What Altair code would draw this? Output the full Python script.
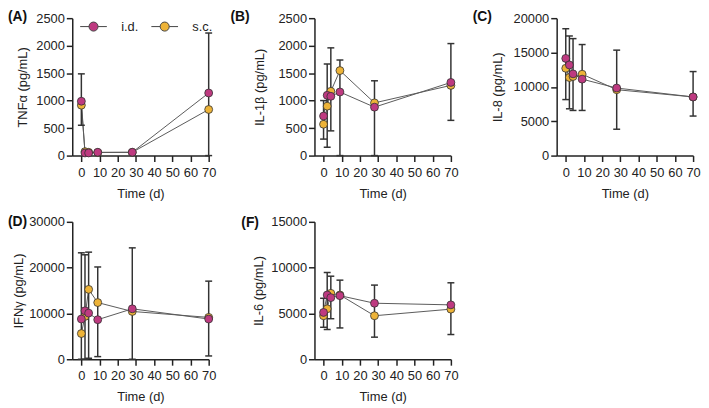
import altair as alt
import pandas as pd

FONT = "Liberation Sans"

times = [0, 2, 4, 9, 28, 70]
routes = ["i.d.", "s.c."]
route_colors = ["#BE3A80", "#EDB338"]
x_ticks = [0, 10, 20, 30, 40, 50, 60, 70]

# (A) TNFα
tnf_id = [989, 48, 48, 60, 60, 1139]
tnf_sc = [917, 72, 60, 55, 60, 839]
tnf_err_t = [0, 70]
tnf_err_lo = [552, 0]
tnf_err_hi = [1487, 2230]

# (B) IL-1β
il1b_id = [719, 1097, 1079, 1157, 881, 1331]
il1b_sc = [570, 899, 1169, 1547, 959, 1277]
il1b_err_lo = [300, 150, 450, 0, 0, 641]
il1b_err_hi = [1001, 1667, 1960, 1739, 1361, 2038]

# (C) IL-8
il8_id = [14149, 13189, 11894, 11127, 9832, 8537]
il8_sc = [12710, 11367, 11511, 11846, 9592, 8537]
il8_err_lo = [8153, 6811, 6571, 6571, 3837, 5755]
il8_err_hi = [18465, 17410, 17026, 16163, 15348, 12230]

# (D) IFNγ
ifng_id = [8777, 10576, 10072, 8633, 11007, 8777]
ifng_sc = [5612, 9353, 15252, 12374, 10432, 9137]
ifng_err_lo = [0, 0, 216, 575, 0, 719]
ifng_err_hi = [23237, 22806, 23381, 20144, 24317, 17050]

# (F) IL-6
il6_id = [5108, 7014, 6727, 6942, 6115, 5935]
il6_sc = [4748, 5504, 7194, 7014, 4748, 5468]
il6_err_lo = [3489, 3237, 4424, 3417, 2410, 2698]
il6_err_hi = [6655, 9460, 9065, 8633, 8094, 8345]

LEG_PATH = ("M-1,0L-0.34,0M0.34,0L1,0M0.34,0A0.34,0.34,0,1,1,-0.34,0"
            "A0.34,0.34,0,1,1,0.34,0Z")


def panel(label, ytitle, id_vals, sc_vals, err_t, err_lo, err_hi, ymax, ystep,
          tpad, lab_x, lab_y, legend=False):
    rows = []
    for r, vals in (("s.c.", sc_vals), ("i.d.", id_vals)):
        for t, v in zip(times, vals):
            rows.append({"t": t, "v": v, "route": r})
    df = pd.DataFrame(rows)
    err = pd.DataFrame({"t": err_t, "lo": err_lo, "hi": err_hi})

    xs = alt.Scale(domain=[-5, 70], nice=False, zero=False)
    ys = alt.Scale(domain=[0, ymax], nice=False)
    xax = alt.Axis(values=x_ticks, title="Time (d)", labelFlush=False,
                   labelOverlap=False)
    yax = alt.Axis(values=list(range(0, ymax + 1, ystep)), format="d",
                   title=ytitle, titlePadding=tpad, labelOverlap=False)
    X = alt.X("t:Q", scale=xs, axis=xax)

    line = alt.Chart(df).mark_line(color="#5a5a5a", strokeWidth=1).encode(
        x=X, y=alt.Y("v:Q", scale=ys, axis=yax), detail="route:N")
    rule = alt.Chart(err).mark_rule(color="#333333", strokeWidth=1.5).encode(
        x=X, y=alt.Y("lo:Q", scale=ys, axis=yax), y2="hi:Q")
    cap_hi = alt.Chart(err).mark_tick(orient="horizontal", size=7, thickness=1.5,
                                      color="#333333", opacity=1).encode(
        x=X, y=alt.Y("hi:Q", scale=ys, axis=yax))
    cap_lo = alt.Chart(err).mark_tick(orient="horizontal", size=7, thickness=1.5,
                                      color="#333333", opacity=1).encode(
        x=X, y=alt.Y("lo:Q", scale=ys, axis=yax))
    if legend:
        leg = alt.Legend(title=None, orient="none", legendX=7.5, legendY=-5.5,
                         direction="horizontal", symbolType=LEG_PATH,
                         symbolSize=729, symbolStrokeColor="#444444",
                         symbolStrokeWidth=1, symbolOpacity=1,
                         labelFontSize=13, labelFont=FONT, labelColor="#222222",
                         labelOffset=14, columnPadding=10, padding=0)
    else:
        leg = None
    pts = alt.Chart(df).mark_circle(size=64, opacity=1, stroke="#333333",
                                    strokeWidth=0.8).encode(
        x=X, y=alt.Y("v:Q", scale=ys, axis=yax),
        color=alt.Color("route:N", scale=alt.Scale(domain=routes, range=route_colors),
                        legend=leg))
    lab = alt.Chart(pd.DataFrame({"lab": [label]})).mark_text(
        align="left", baseline="middle", fontSize=14, fontWeight="bold",
        font=FONT, color="#111111").encode(
        text="lab:N", x=alt.value(lab_x), y=alt.value(lab_y))
    return alt.layer(line, rule, cap_hi, cap_lo, pts, lab).properties(width=138, height=139)


pA = panel("(A)", "TNFα (pg/mL)", tnf_id, tnf_sc, tnf_err_t, tnf_err_lo, tnf_err_hi,
           2500, 500, 6, -65, -1, legend=True)
pB = panel("(B)", "IL-1β (pg/mL)", il1b_id, il1b_sc, times, il1b_err_lo, il1b_err_hi,
           2500, 500, 12, -85, -1)
pC = panel("(C)", "IL-8 (pg/mL)", il8_id, il8_sc, times, il8_err_lo, il8_err_hi,
           20000, 5000, 9, -85, -1)
pD = panel("(D)", "IFNγ (pg/mL)", ifng_id, ifng_sc, times, ifng_err_lo, ifng_err_hi,
           30000, 10000, 3, -65, 0)
pF = panel("(F)", "IL-6 (pg/mL)", il6_id, il6_sc, times, il6_err_lo, il6_err_hi,
           15000, 5000, 5, -74, 1)

row1 = alt.hconcat(pA, pB, pC, spacing=107, bounds="flush").resolve_scale(
    color="independent").resolve_legend(color="independent")
row2 = alt.hconcat(pD, pF, spacing=107, bounds="flush").resolve_scale(
    color="independent").resolve_legend(color="independent")

chart = alt.vconcat(row1, row2, spacing=15, padding=0).resolve_scale(
    color="independent").resolve_legend(color="independent").configure(
    font=FONT).configure_view(stroke=None).configure_axis(
    domainColor="#222222", domainWidth=1.5, tickColor="#222222", tickWidth=1.5,
    tickSize=6, labelFontSize=13, labelColor="#222222", labelFont=FONT,
    titleFontSize=13, titleFontWeight="normal", titleColor="#222222",
    titleFont=FONT, grid=False).configure_axisX(
    labelPadding=5, titlePadding=8).configure_axisY(labelPadding=2)

chart.save("out.html", embed_options={"renderer": "svg", "actions": False})
